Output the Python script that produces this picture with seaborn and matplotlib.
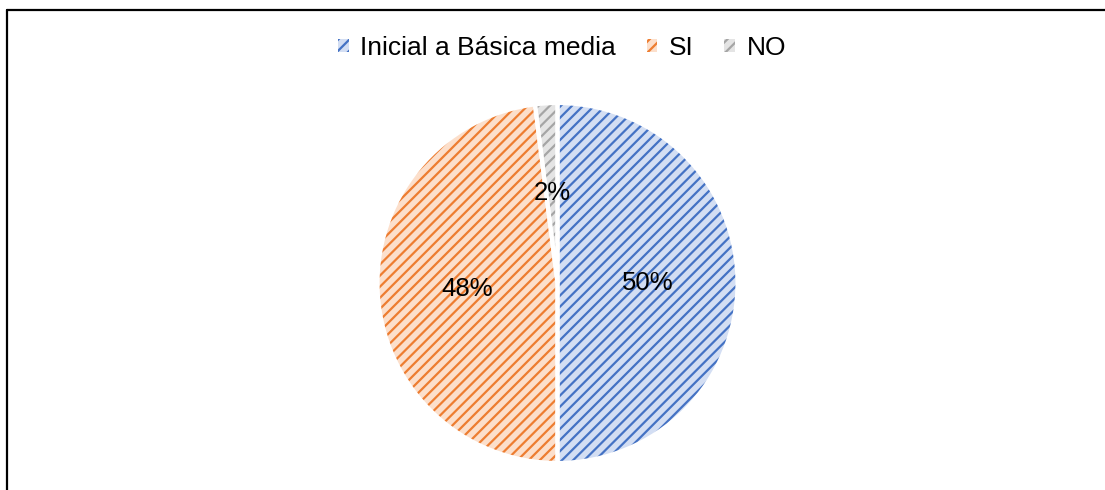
import matplotlib.pyplot as plt
import seaborn as sns
from matplotlib.lines import Line2D
from matplotlib.patches import Patch

sns.set_theme(style="white")
plt.rcParams["font.family"] = ["Liberation Sans", "DejaVu Sans"]
plt.rcParams["hatch.linewidth"] = 1.6
plt.rcParams["text.color"] = "black"

categories = ["Inicial a Básica media", "SI", "NO"]
values = [50, 48, 2]
face_colors = ["#d3def3", "#fcdfcb", "#e4e4e4"]
stripe_colors = ["#4472C4", "#ED7D31", "#A5A5A5"]

W, H = 1105, 490
fig = plt.figure(figsize=(W / 100, H / 100), dpi=100)

cx, cy, r = 557.5, 283, 180
ax = fig.add_axes([(cx - r) / W, 1 - (cy + r) / H, 2 * r / W, 2 * r / H])

# hatched fill, stripes use the edge colour
wedges, _ = ax.pie(
    values,
    colors=face_colors,
    startangle=90,
    counterclock=False,
    wedgeprops=dict(linewidth=0),
)
for w, c in zip(wedges, stripe_colors):
    w.set_hatch("///")
    w.set_edgecolor(c)
    w.set_linewidth(0)

# white separators and percentage labels on top
ax.pie(
    values,
    colors=["none"] * 3,
    startangle=90,
    counterclock=False,
    autopct="%.0f%%",
    pctdistance=0.5,
    wedgeprops=dict(edgecolor="white", linewidth=3),
    textprops=dict(fontsize=18.5, color="black"),
)
ax.set_xlim(-1, 1)
ax.set_ylim(-1, 1)
ax.axis("off")

handles = [
    Patch(facecolor=f, edgecolor=s, hatch="///", linewidth=0)
    for f, s in zip(face_colors, stripe_colors)
]
fig.legend(
    handles,
    categories,
    loc="center",
    bbox_to_anchor=(562 / W, 1 - 48 / H),
    ncol=3,
    frameon=False,
    fontsize=19,
    labelcolor="black",
    handlelength=0.4,
    handleheight=0.4,
    handletextpad=0.45,
    columnspacing=1.15,
)

# chart area border (only top and left visible in the crop)
fig.add_artist(Line2D([7 / W, 7 / W], [-0.05, 1 - 10 / H], color="black", lw=1.6,
                      transform=fig.transFigure))
fig.add_artist(Line2D([7 / W, 1.05], [1 - 10 / H, 1 - 10 / H], color="black", lw=1.6,
                      transform=fig.transFigure))

fig.savefig("out.png", dpi=100)
